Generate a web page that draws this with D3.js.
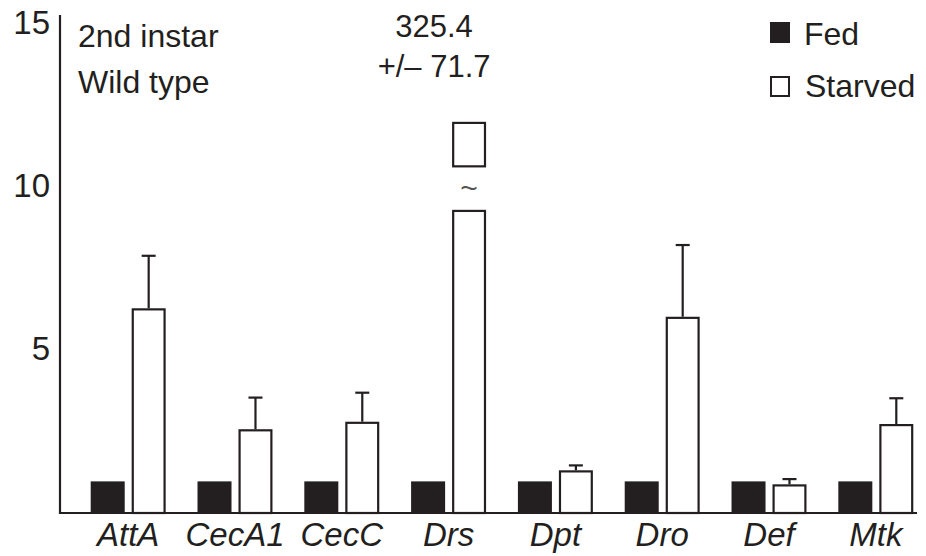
<!DOCTYPE html>
<html>
<head>
<meta charset="utf-8">
<script src="https://cdn.jsdelivr.net/npm/d3@7"></script>
<style>
    body { margin: 0; background: #fff; }
    svg { display: block; font-family: "Liberation Sans", Arial, Helvetica, sans-serif; }
</style>
</head>
<body>
<svg id="chart" width="926" height="556"></svg>
<script>
var width = 926, height = 556
var ink = "#231f20"

// data (fold change, fed vs starved)
var genes = ["AttA", "CecA1", "CecC", "Drs", "Dpt", "Dro", "Def", "Mtk"]
var fed = [0.97, 0.97, 0.97, 0.97, 0.97, 0.97, 0.97, 0.97]
var starved = [6.28, 2.57, 2.80, 325.4, 1.31, 6.02, 0.88, 2.73]
var starvedErr = [1.61, 0.97, 0.89, 71.7, 0.15, 2.20, 0.16, 0.79]
var yTicks = [5, 10, 15]
var groups = ["Fed", "Starved"]
// broken bar for Drs: lower part cut at 9.3, stub box drawn between 10.6 and 12.0
var breakAt = 9.3, stub = [10.6, 12.0]

var svg = d3.select("#chart")

var x = d3.scaleBand()
    .domain(genes)
    .range([90.7, 913.3])
    .paddingInner(0.298)
    .paddingOuter(0)
var x1 = d3.scaleBand()
    .domain(groups)
    .range([0, x.bandwidth()])
    .paddingInner(0.17)
var y = d3.scaleLinear()
    .domain([0, 15])
    .range([513, 24])

// y axis labels, no tick marks
var yAxis = svg.append("g")
    .attr("transform", "translate(60,0)")
    .call(d3.axisLeft(y).tickValues(yTicks).tickSize(0).tickPadding(10))
yAxis.select(".domain").remove()
yAxis.selectAll("text")
    .attr("font-size", 33)
    .attr("font-family", "Liberation Sans, Arial, sans-serif")
    .attr("fill", ink)
    .attr("dy", "0.3em")

// gene labels
var xAxis = svg.append("g")
    .attr("transform", "translate(0,513)")
    .call(d3.axisBottom(x).tickSize(0).tickPadding(10))
xAxis.select(".domain").remove()
xAxis.selectAll("text")
    .attr("font-size", 33)
    .attr("font-style", "italic")
    .attr("font-family", "Liberation Sans, Arial, sans-serif")
    .attr("fill", ink)

var rows = genes.map(function(g, i) {
    return { gene: g, fed: fed[i], starved: starved[i], err: starvedErr[i] }
})

// fed bars
svg.append("g").selectAll("rect")
    .data(rows)
    .enter()
    .append("rect")
        .attr("x", d => x(d.gene) + x1("Fed"))
        .attr("y", d => y(d.fed))
        .attr("width", x1.bandwidth())
        .attr("height", d => y(0) - y(d.fed))
        .attr("fill", ink)

// starved bars (outlined); Drs is cut at breakAt
var sw = 2.2
function barTop(d) { return d.starved > 15 ? breakAt : d.starved }
var sg = svg.append("g")
sg.selectAll("rect")
    .data(rows)
    .enter()
    .append("rect")
        .attr("x", d => x(d.gene) + x1("Starved") + sw / 2)
        .attr("y", d => y(barTop(d)) + sw / 2)
        .attr("width", x1.bandwidth() - sw)
        .attr("height", d => y(0) - y(barTop(d)) - sw / 2)
        .attr("fill", "#fff")
        .attr("stroke", ink)
        .attr("stroke-width", sw)

// error bars
var normal = rows.filter(d => d.starved <= 15)
var eb = svg.append("g").attr("stroke", ink).attr("stroke-width", sw)
eb.selectAll("line.v")
    .data(normal)
    .enter()
    .append("line")
        .attr("class", "v")
        .attr("x1", d => x(d.gene) + x1("Starved") + x1.bandwidth() / 2)
        .attr("x2", d => x(d.gene) + x1("Starved") + x1.bandwidth() / 2)
        .attr("y1", d => y(d.starved))
        .attr("y2", d => y(d.starved + d.err))
eb.selectAll("line.c")
    .data(normal)
    .enter()
    .append("line")
        .attr("class", "c")
        .attr("x1", d => x(d.gene) + x1("Starved") + x1.bandwidth() / 2 - 7)
        .attr("x2", d => x(d.gene) + x1("Starved") + x1.bandwidth() / 2 + 7)
        .attr("y1", d => y(d.starved + d.err))
        .attr("y2", d => y(d.starved + d.err))

// Drs off-scale stub, tilde and value label
var big = rows.filter(d => d.starved > 15)
big.forEach(function(d) {
    var bx = x(d.gene) + x1("Starved")
    var cx = bx + x1.bandwidth() / 2
    svg.append("rect")
        .attr("x", bx + sw / 2)
        .attr("y", y(stub[1]) + sw / 2)
        .attr("width", x1.bandwidth() - sw)
        .attr("height", y(stub[0]) - y(stub[1]) - sw)
        .attr("fill", "#fff")
        .attr("stroke", ink)
        .attr("stroke-width", sw)
    svg.append("text")
        .attr("x", cx)
        .attr("y", (y(stub[0]) + y(breakAt)) / 2 + 9)
        .attr("text-anchor", "middle")
        .attr("font-size", 30)
        .attr("fill", "#555")
        .text("~")
    svg.append("text")
        .attr("x", cx - 35)
        .attr("y", 37)
        .attr("text-anchor", "middle")
        .attr("font-size", 31)
        .attr("fill", ink)
        .text(d.starved.toFixed(1))
    svg.append("text")
        .attr("x", cx - 35)
        .attr("y", 77)
        .attr("text-anchor", "middle")
        .attr("font-size", 31)
        .attr("fill", ink)
        .text("+/\u2013 " + d.err.toFixed(1))
})

// axis lines
svg.append("line")
    .attr("x1", 60).attr("x2", 60)
    .attr("y1", 15).attr("y2", y(0) + 1)
    .attr("stroke", ink).attr("stroke-width", sw)
svg.append("line")
    .attr("x1", 59).attr("x2", 917)
    .attr("y1", y(0)).attr("y2", y(0))
    .attr("stroke", ink).attr("stroke-width", sw)

// panel labels
svg.append("text")
    .attr("x", 78).attr("y", 47)
    .attr("font-size", 32).attr("fill", ink)
    .text("2nd instar")
svg.append("text")
    .attr("x", 78).attr("y", 93)
    .attr("font-size", 32).attr("fill", ink)
    .text("Wild type")

// legend
var legend = svg.append("g").attr("transform", "translate(770,0)")
legend.append("rect")
    .attr("x", 0).attr("y", 22).attr("width", 20).attr("height", 21)
    .attr("fill", ink)
legend.append("rect")
    .attr("x", 1).attr("y", 77).attr("width", 18).attr("height", 19)
    .attr("fill", "#fff").attr("stroke", ink).attr("stroke-width", 2)
legend.append("text")
    .attr("x", 34).attr("y", 45)
    .attr("font-size", 32).attr("fill", ink)
    .text("Fed")
legend.append("text")
    .attr("x", 35).attr("y", 97)
    .attr("font-size", 32).attr("fill", ink)
    .text("Starved")
</script>
</body>
</html>
